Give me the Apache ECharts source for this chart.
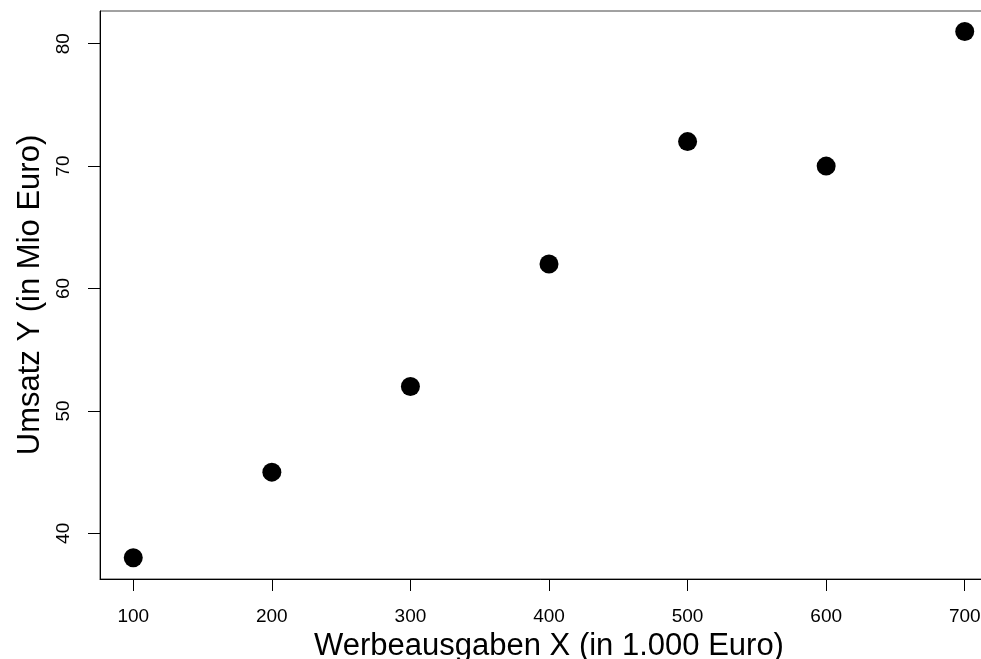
<!DOCTYPE html>
<html>
<head>
<meta charset="utf-8">
<script src="https://cdn.jsdelivr.net/npm/echarts@6/dist/echarts.min.js"></script>
<style>
  html, body { margin: 0; padding: 0; background: #fff; }
  #chart { width: 981px; height: 659px; }
</style>
</head>
<body>
<div id="chart"></div>
<script>
// Werbeausgaben (x) und Umsatz (y)
var werbung = [100, 200, 300, 400, 500, 600, 700];
var umsatz = [38, 45, 52, 62, 72, 70, 81];
var xTicks = [100, 200, 300, 400, 500, 600, 700];
var yTicks = [40, 50, 60, 70, 80];

var punkte = [];
for (var i = 0; i < werbung.length; i++) {
    punkte.push([werbung[i], umsatz[i]]);
}

var myChart = echarts.init(document.getElementById('chart'));
var schrift = 'Liberation Sans, Arial, Helvetica, sans-serif';
var option = {
    animation: false,
    grid: {
        left: 100,
        top: 11,
        width: 898,
        height: 568,
        outerBoundsMode: 'none',
        containLabel: false,
        show: true,
        borderColor: '#444',
        borderWidth: 1
    },
    xAxis: {
        type: 'value',
        min: 76,
        max: 724,
        name: 'Werbeausgaben X (in 1.000 Euro)',
        nameLocation: 'middle',
        nameGap: 46,
        nameTextStyle: { color: '#000', fontSize: 31, fontFamily: schrift },
        axisLine: { show: true, lineStyle: { color: '#000', width: 1 } },
        axisTick: { show: true, length: 12, customValues: xTicks, lineStyle: { color: '#000' } },
        axisLabel: { show: true, customValues: xTicks, margin: 28, color: '#000', fontSize: 19, fontFamily: schrift },
        splitLine: { show: false }
    },
    yAxis: {
        type: 'value',
        min: 36.27,
        max: 82.67,
        name: 'Umsatz Y (in Mio Euro)',
        nameLocation: 'middle',
        nameGap: 53,
        nameTextStyle: { color: '#000', fontSize: 31, fontFamily: schrift },
        axisLine: { show: true, lineStyle: { color: '#000', width: 1 } },
        axisTick: { show: true, length: 12, customValues: yTicks, lineStyle: { color: '#000' } },
        axisLabel: { show: true, customValues: yTicks, rotate: 90, margin: 27, color: '#000', fontSize: 19, fontFamily: schrift },
        splitLine: { show: false }
    },
    series: [{
        type: 'scatter',
        symbol: 'circle',
        symbolSize: 19,
        itemStyle: { color: '#000', opacity: 1 },
        data: punkte
    }]
};
myChart.setOption(option);
</script>
</body>
</html>
